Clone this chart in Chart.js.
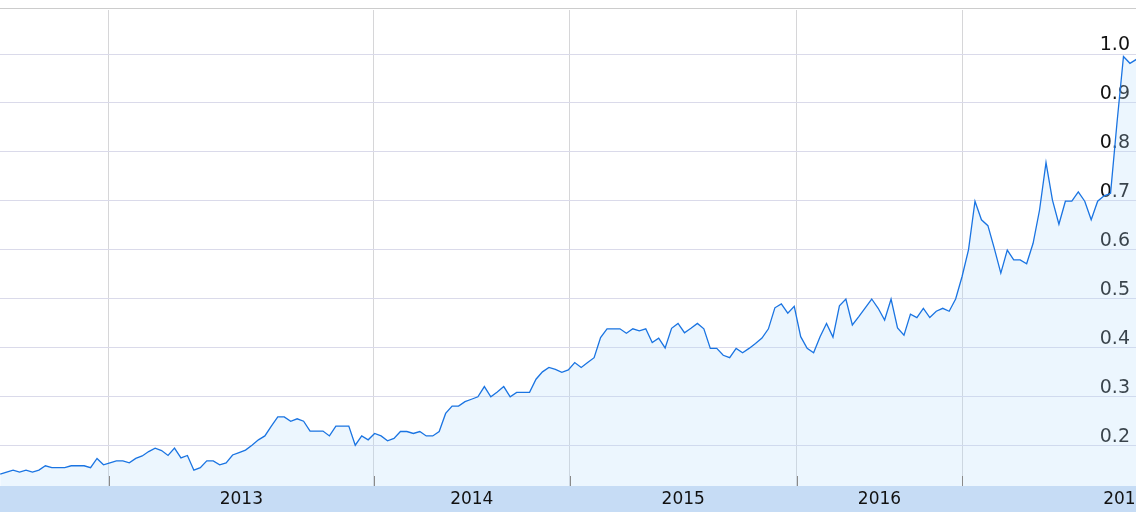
<!DOCTYPE html>
<html>
<head>
<meta charset="utf-8">
<script src="https://cdn.jsdelivr.net/npm/chart.js@4.4.1/dist/chart.umd.min.js"></script>
<style>
  html, body { margin: 0; padding: 0; background: #fff; overflow: hidden; }
  #wrap { width: 1136px; height: 512px; position: relative; }
</style>
</head>
<body>
<div id="wrap"><canvas id="trendChart"></canvas></div>
<script>
// --- datos (una muestra por semana) ---
const weekValues = [
    0.141, 0.145, 0.149, 0.145, 0.149, 0.145, 0.149, 0.158, 0.154, 0.154,
    0.154, 0.158, 0.158, 0.158, 0.154, 0.173, 0.160, 0.164, 0.168, 0.168,
    0.164, 0.173, 0.178, 0.187, 0.194, 0.189, 0.179, 0.194, 0.174, 0.179,
    0.149, 0.154, 0.168, 0.168, 0.160, 0.164, 0.180, 0.185, 0.190, 0.200,
    0.211, 0.219, 0.239, 0.258, 0.258, 0.249, 0.254, 0.249, 0.229, 0.229,
    0.229, 0.219, 0.239, 0.239, 0.239, 0.200, 0.219, 0.211, 0.224, 0.219,
    0.209, 0.214, 0.228, 0.228, 0.224, 0.228, 0.219, 0.219, 0.228, 0.265,
    0.280, 0.280, 0.289, 0.294, 0.299, 0.320, 0.299, 0.309, 0.320, 0.299,
    0.308, 0.308, 0.308, 0.335, 0.350, 0.359, 0.355, 0.349, 0.354, 0.369,
    0.359, 0.369, 0.379, 0.420, 0.438, 0.438, 0.438, 0.429, 0.438, 0.434,
    0.438, 0.410, 0.419, 0.399, 0.439, 0.449, 0.430, 0.439, 0.449, 0.438,
    0.398, 0.398, 0.384, 0.379, 0.398, 0.389, 0.398, 0.408, 0.419, 0.438,
    0.481, 0.489, 0.470, 0.484, 0.422, 0.398, 0.389, 0.422, 0.449, 0.421,
    0.485, 0.499, 0.446, 0.463, 0.481, 0.499, 0.480, 0.456, 0.499, 0.440,
    0.425, 0.468, 0.461, 0.480, 0.461, 0.474, 0.480, 0.474, 0.499, 0.545,
    0.600, 0.699, 0.661, 0.649, 0.602, 0.552, 0.599, 0.579, 0.579, 0.571,
    0.613, 0.681, 0.778, 0.701, 0.652, 0.699, 0.699, 0.718, 0.699, 0.661,
    0.699, 0.710, 0.715, 0.860, 0.995, 0.981, 0.989, 0.900
];
const yearNames = ['2013', '2014', '2015', '2016', '2017'];
// semana en la que empieza cada año (la última marca el final de 2017)
const yearStarts = [16.8, 57.9, 88.2, 123.4, 149, 199.4];
const yTicks = [0.2, 0.3, 0.4, 0.5, 0.6, 0.7, 0.8, 0.9, 1.0];
const xRange = [-0.03, 175.94];
const yRange = [0.1166, 1.09];

const yearMids = yearNames.map((_, i) => (yearStarts[i] + yearStarts[i + 1]) / 2);
const visibleStarts = yearStarts.filter(v => v >= xRange[0] && v <= xRange[1]);

const textColor = '#111111';
const fontFamily = "'DejaVu Sans', Verdana, sans-serif";

const bandPlugin = {
    id: 'band',
    beforeDraw(chart) {
        const { ctx, chartArea, width, height } = chart;
        ctx.save();
        ctx.fillStyle = '#c6dcf5';
        ctx.fillRect(0, chartArea.bottom, width, height - chartArea.bottom);
        ctx.strokeStyle = '#cccccc';
        ctx.lineWidth = 1;
        ctx.beginPath();
        ctx.moveTo(0, chartArea.top - 1.5);
        ctx.lineTo(width, chartArea.top - 1.5);
        ctx.stroke();
        ctx.restore();
    },
    afterDatasetsDraw(chart) {
        const { ctx, chartArea } = chart;
        const xs = chart.scales.x;
        ctx.save();
        ctx.strokeStyle = '#8a8a8a';
        ctx.lineWidth = 1;
        visibleStarts.forEach(v => {
            const px = Math.round(xs.getPixelForValue(v)) + 0.5;
            ctx.beginPath();
            ctx.moveTo(px, chartArea.bottom - 10);
            ctx.lineTo(px, chartArea.bottom);
            ctx.stroke();
        });
        ctx.restore();
    }
};

const ctx = document.getElementById('trendChart').getContext('2d');
new Chart(ctx, {
    type: 'line',
    data: {
        datasets: [{
            data: weekValues.map((v, i) => ({ x: i, y: v })),
            borderColor: '#1a74e2',
            backgroundColor: 'rgba(180, 220, 250, 0.25)',
            borderWidth: 1.3,
            fill: 'start',
            tension: 0,
            pointRadius: 0,
            xAxisID: 'x',
            yAxisID: 'y'
        }]
    },
    options: {
        responsive: true,
        maintainAspectRatio: false,
        animation: false,
        layout: { padding: { top: 10, left: 0, right: 0, bottom: 0 } },
        plugins: {
            legend: { display: false },
            tooltip: { enabled: false }
        },
        scales: {
            x: {
                type: 'linear',
                position: 'bottom',
                min: xRange[0],
                max: xRange[1],
                afterBuildTicks: s => { s.ticks = visibleStarts.map(v => ({ value: v })); },
                ticks: { display: false },
                grid: { color: '#d6d6d8', drawTicks: false },
                border: { display: false },
                afterFit: s => { s.height = 0; }
            },
            xYears: {
                type: 'linear',
                position: 'bottom',
                min: xRange[0],
                max: xRange[1],
                afterBuildTicks: s => { s.ticks = yearMids.map(v => ({ value: v })); },
                ticks: {
                    autoSkip: false,
                    maxRotation: 0,
                    padding: 3,
                    color: textColor,
                    font: { family: fontFamily, size: 17 },
                    callback: (v, i) => yearNames[i]
                },
                grid: { display: false, drawTicks: false },
                border: { display: false },
                afterFit: s => { s.height = 26; s.paddingLeft = 0; s.paddingRight = 0; }
            },
            y: {
                type: 'linear',
                position: 'right',
                min: yRange[0],
                max: yRange[1],
                afterBuildTicks: s => { s.ticks = yTicks.map(v => ({ value: v })); },
                ticks: { display: false },
                grid: { color: '#dadaea', drawTicks: false },
                border: { display: false },
                afterFit: s => { s.width = 0; }
            },
            yLabels: {
                type: 'linear',
                position: 'right',
                min: yRange[0],
                max: yRange[1],
                z: 1,
                afterBuildTicks: s => { s.ticks = yTicks.map(v => ({ value: v })); },
                ticks: {
                    mirror: true,
                    padding: -6,
                    labelOffset: -8.5,
                    color: textColor,
                    font: { family: fontFamily, size: 19 },
                    callback: v => v.toFixed(1)
                },
                grid: { display: false, drawTicks: false },
                border: { display: false },
                afterFit: s => { s.width = 0; s.paddingTop = 0; s.paddingBottom = 0; }
            }
        }
    },
    plugins: [bandPlugin]
});
</script>
</body>
</html>
